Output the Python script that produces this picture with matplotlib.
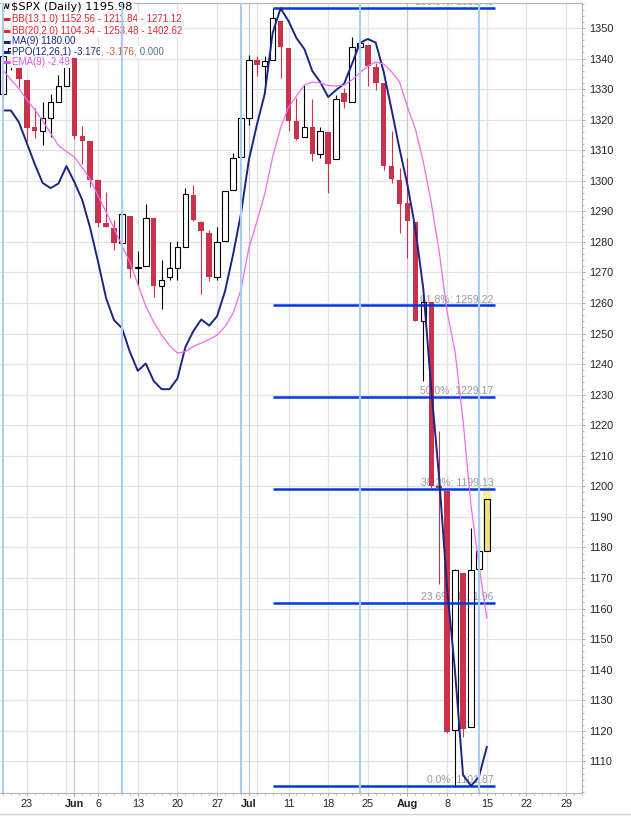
import numpy as np
import pandas as pd
import matplotlib
matplotlib.use('Agg')
import matplotlib.pyplot as plt
from matplotlib.lines import Line2D

# trading days shown on the chart (plus the empty days to the right)
dates = pd.bdate_range('2011-05-18', '2011-08-31', freq='C',
                       holidays=['2011-05-30', '2011-07-04'])

opens = [1328.54, 1342.40, 1342.00, 1333.07, 1317.70, 1316.36, 1320.64, 1325.69, 1331.10, 1345.20,
         1314.55, 1312.94, 1300.26, 1286.31, 1284.63, 1279.63, 1288.60, 1271.31, 1272.22, 1287.87,
         1265.53, 1268.58, 1271.50, 1278.40, 1295.48, 1286.60, 1283.04, 1268.44, 1280.21, 1296.85,
         1307.64, 1320.64, 1339.59, 1337.56, 1339.62, 1352.39, 1343.31, 1319.61, 1314.45, 1317.74,
         1308.87, 1315.94, 1307.07, 1328.66, 1325.65, 1343.80, 1344.32, 1337.39, 1331.91, 1304.84,
         1300.12, 1292.59, 1286.56, 1254.25, 1260.23, 1200.28, 1198.48, 1120.23, 1171.77, 1121.30,
         1172.87, 1178.86]
highs = [1341.82, 1346.82, 1342.00, 1333.07, 1323.72, 1325.86, 1328.51, 1334.62, 1345.20, 1345.20,
         1318.03, 1312.94, 1300.26, 1296.22, 1287.04, 1294.54, 1288.60, 1277.04, 1292.50, 1287.87,
         1274.11, 1279.82, 1280.42, 1297.62, 1298.61, 1286.79, 1283.93, 1284.91, 1296.80, 1309.21,
         1321.97, 1341.01, 1340.89, 1340.94, 1356.48, 1352.39, 1343.31, 1327.17, 1331.48, 1326.88,
         1317.70, 1315.94, 1328.14, 1330.43, 1347.00, 1346.10, 1344.32, 1338.51, 1331.91, 1316.32,
         1304.16, 1307.38, 1286.56, 1261.20, 1260.23, 1218.11, 1198.48, 1172.88, 1171.77, 1186.29,
         1189.04, 1199.90]
lows = [1326.59, 1336.36, 1330.67, 1312.88, 1313.87, 1311.80, 1314.41, 1325.69, 1331.10, 1313.71,
        1305.61, 1297.90, 1284.72, 1284.74, 1277.42, 1279.63, 1268.28, 1265.64, 1272.22, 1261.90,
        1258.07, 1267.40, 1267.56, 1278.40, 1286.79, 1262.87, 1267.24, 1267.53, 1280.21, 1296.85,
        1307.64, 1318.18, 1334.30, 1330.92, 1339.62, 1333.71, 1316.42, 1313.33, 1314.45, 1306.51,
        1307.52, 1295.92, 1307.07, 1323.65, 1325.65, 1336.95, 1331.09, 1329.59, 1303.49, 1299.16,
        1282.86, 1274.73, 1254.03, 1234.56, 1199.54, 1168.09, 1119.28, 1101.54, 1118.01, 1121.30,
        1170.74, 1178.86]
closes = [1340.68, 1343.60, 1333.27, 1317.37, 1316.28, 1320.47, 1325.69, 1331.10, 1345.20, 1314.55,
          1312.94, 1300.16, 1286.17, 1284.94, 1279.56, 1289.00, 1270.98, 1271.83, 1287.87, 1265.42,
          1267.64, 1271.50, 1278.36, 1295.52, 1287.14, 1283.50, 1268.45, 1280.10, 1296.67, 1307.41,
          1320.64, 1339.67, 1337.88, 1339.22, 1353.22, 1343.80, 1319.49, 1313.64, 1317.72, 1308.87,
          1316.14, 1305.44, 1326.73, 1325.84, 1343.80, 1345.02, 1337.43, 1331.94, 1304.89, 1300.67,
          1292.28, 1286.94, 1254.05, 1260.34, 1200.07, 1199.38, 1119.46, 1172.53, 1120.76, 1172.64,
          1178.81, 1195.98]

ppo_line = [1323.0, 1323.0, 1319.2, 1312.4, 1305.5, 1299.3, 1297.6, 1299.1, 1304.8, 1299.6,
            1293.7, 1284.5, 1273.4, 1261.6, 1254.4, 1251.8, 1244.0, 1237.8, 1240.2, 1234.5,
            1231.8, 1231.8, 1235.3, 1245.6, 1250.8, 1254.6, 1252.6, 1255.7, 1263.9, 1275.7,
            1289.1, 1306.8, 1318.2, 1328.4, 1348.4, 1356.4, 1352.3, 1346.7, 1343.1, 1335.9,
            1332.3, 1327.4, 1329.7, 1331.7, 1338.2, 1345.1, 1346.4, 1345.2, 1335.6, 1323.2,
            1310.4, 1298.6, 1284.2, 1264.5, 1231.9, 1202.5, 1166.5, 1139.3, 1105.6, 1102.0,
            1104.9, 1114.7]
ema_line = [1336.2, 1333.1, 1330.2, 1326.5, 1323.3, 1319.6, 1315.6, 1311.5, 1309.6, 1307.8,
            1304.3, 1300.4, 1295.0, 1289.8, 1284.5, 1278.7, 1273.4, 1266.2, 1259.0, 1253.8,
            1249.5, 1246.1, 1243.6, 1244.1, 1245.8, 1246.9, 1248.1, 1249.5, 1252.3, 1256.6,
            1264.3, 1278.0, 1286.5, 1295.7, 1307.8, 1317.3, 1324.1, 1327.7, 1331.3, 1332.3,
            1332.0, 1331.2, 1331.0, 1331.3, 1333.0, 1335.3, 1337.6, 1338.9, 1338.2, 1335.6,
            1332.3, 1324.1, 1316.9, 1306.1, 1292.7, 1276.7, 1257.0, 1244.0, 1221.7, 1193.9,
            1174.3, 1156.9]

tick_dates = ['2011-05-23', '2011-06-01', '2011-06-06', '2011-06-13', '2011-06-20', '2011-06-27',
              '2011-07-01', '2011-07-11', '2011-07-18', '2011-07-25', '2011-08-01', '2011-08-08',
              '2011-08-15', '2011-08-22', '2011-08-29']
tick_labels = ['23', 'Jun', '6', '13', '20', '27', 'Jul', '11', '18', '25', 'Aug', '8', '15', '22', '29']
month_labels = ['Jun', 'Jul', 'Aug']

cycle_dates = ['2011-05-18', '2011-06-09', '2011-06-30', '2011-07-22', '2011-08-12']

fib_start = '2011-07-07'
fib_pct = ['100.0%', '61.8%', '50.0%', '38.2%', '23.6%', '0.0%']
fib_vals = [1356.48, 1259.22, 1229.17, 1199.13, 1161.96, 1101.87]

RED = '#c8324a'
NAVY = '#1c2680'
VIOLET = '#ec6cf0'
FIB_BLUE = '#0038e8'
CYCLE_BLUE = '#a9cdf0'

W, H = 631, 816
fig = plt.figure(figsize=(W / 100, H / 100), dpi=100)
ax = fig.add_axes([0, (H - 793) / H, 582 / W, 790 / H])

slot = 8.05
ax.set_xlim(-3 / slot, 579 / slot)
ax.set_ylim(1099.66, 1358.17)

date_str = list(dates.strftime('%Y-%m-%d'))
pos = {d: i for i, d in enumerate(date_str)}

# vertical grid: first trading day of every week, darker at month starts
week_start = [i for i in range(len(dates)) if i == 0 or dates[i].isocalendar()[1] != dates[i - 1].isocalendar()[1]]
month_start = [i for i in range(1, len(dates)) if dates[i].month != dates[i - 1].month]
for i in week_start:
    if i > 0 and i not in month_start:
        ax.axvline(i, color='#e3e3e3', lw=0.9, zorder=0.5)
for i in month_start:
    ax.axvline(i, color='#c9c9c9', lw=0.9, zorder=0.6)
for v in range(1110, 1360, 10):
    ax.axhline(v, color='#e3e3e3', lw=0.9, zorder=0.5)

# candles
o = np.array(opens)
h = np.array(highs)
l = np.array(lows)
c = np.array(closes)
n = len(c)
x = np.arange(n)
up = c >= o
last = np.zeros(n, dtype=bool)
last[-1] = True
hollow = up & ~last
filled = ~up & ~last

ax.vlines(x[hollow | last], l[hollow | last], h[hollow | last], color='black', lw=0.8, zorder=2)
ax.vlines(x[filled], l[filled], h[filled], color=RED, lw=0.8, zorder=2)
ax.bar(x[hollow], (c - o)[hollow], bottom=o[hollow], width=0.7, facecolor='white',
       edgecolor='black', lw=0.8, zorder=2.5)
ax.bar(x[filled], (o - c)[filled], bottom=c[filled], width=0.7, color=RED, lw=0, zorder=2.5)
# latest bar highlighted in yellow
ax.bar(x[last], (h - l)[last], bottom=l[last], width=1.02, color='#f6ee94', lw=0, zorder=2.2)
ax.bar(x[last], (c - o)[last], bottom=o[last], width=0.7, facecolor='#f1e37a',
       edgecolor='black', lw=0.8, zorder=2.5)

# PPO + signal line
ax.plot(x[:len(ppo_line)], ppo_line, color=NAVY, lw=1.4, zorder=5)
ax.plot(x[:len(ema_line)], ema_line, color=VIOLET, lw=0.9, zorder=5)

# fibonacci retracement lines
f0 = pos[fib_start]
f1 = n
for pct, val in zip(fib_pct, fib_vals):
    ax.plot([f0, f1], [val, val], color=FIB_BLUE, lw=1.8, zorder=4, solid_capstyle='butt')
    ax.annotate(f'{pct}: {val:.2f}', xy=(f1, val), xytext=(-1, 2), textcoords='offset points',
                ha='right', va='baseline', color='#9a9a9a', fontsize=7.5,
                family='Liberation Sans', zorder=1, annotation_clip=False, clip_on=True)

# cycle lines
for d in cycle_dates:
    ax.axvline(pos[d], color=CYCLE_BLUE, lw=1.5, zorder=7)

# axes styling
ax.spines['left'].set_visible(False)
for s in ['top', 'right', 'bottom']:
    ax.spines[s].set_color('#b4b4b4')
    ax.spines[s].set_linewidth(0.8)

ax.yaxis.tick_right()
ax.set_yticks(range(1110, 1360, 10))
ax.set_yticks(range(1100, 1359, 2), minor=True)
ax.tick_params(axis='y', which='major', length=2.5, width=0.6, color='#999999', pad=3,
               labelsize=7.8, labelcolor='#222222')
ax.tick_params(axis='y', which='minor', length=1.5, width=0.6, color='#aaaaaa')
for t in ax.get_yticklabels():
    t.set_family('Liberation Sans')

ax.set_xticks([pos[d] for d in tick_dates])
ax.set_xticklabels(tick_labels)
ax.set_xticks(np.arange(len(dates)), minor=True)
ax.tick_params(axis='x', which='major', length=2, width=0.6, color='#999999', pad=2,
               labelsize=7.8, labelcolor='#222222')
ax.tick_params(axis='x', which='minor', length=1.5, width=0.6, color='#aaaaaa')
for t in ax.get_xticklabels():
    t.set_family('Liberation Sans')
    if t.get_text() in month_labels:
        t.set_fontweight('bold')


# legend block at top-left (white boxes behind each row)
def fxy(px, py):
    return px / W, 1 - py / H


def legend_row(py, parts, size, dash=None, tx=12, family='Liberation Sans'):
    if dash:
        (xa, ya), (xb, _) = fxy(3, py), fxy(10, py)
        ax.plot([xa, xb], [ya, ya], transform=fig.transFigure, color=dash, lw=2.2,
                solid_capstyle='butt', clip_on=False, zorder=6.5)
    box = dict(facecolor='white', edgecolor='none', pad=0.9)
    prev = ax.text(*fxy(tx, py), parts[0][0], color=parts[0][1], fontsize=size, va='center',
                   ha='left', transform=fig.transFigure, bbox=box, zorder=6, family=family)
    for s, col in parts[1:]:
        prev = ax.annotate(s, xy=(1, 0), xycoords=prev, va='bottom', ha='left', color=col,
                           fontsize=size, bbox=box, zorder=6, family=family)


legend_row(7, [('$SPX (Daily) 1195.98', 'black')], 8.2, tx=11, family='DejaVu Sans')
ax.text(*fxy(1.5, 7), 'W', fontsize=5, fontweight='bold', va='center', ha='left',
        transform=fig.transFigure, zorder=6.6)
legend_row(19, [('BB(13,1.0) 1152.56 - 1211.84 - 1271.12', '#e4262e')], 7, dash='#e4262e')
legend_row(30.5, [('BB(20,2.0) 1104.34 - 1253.48 - 1402.62', '#e4262e')], 7, dash='#e4262e')
legend_row(41.5, [('MA(9) 1180.00', NAVY)], 7, dash=NAVY)
legend_row(52, [('PPO(12,26,1) -3.176', NAVY), (', -3.176,', '#e8562a'), (' 0.000', '#56709a')],
           7, dash=NAVY)
legend_row(62, [('EMA(9) -2.49', '#e050ea')], 7, dash='#e050ea')

fig.add_artist(Line2D([0, 1], [1 - 814 / H, 1 - 814 / H], transform=fig.transFigure,
                      color='#d4d4d4', lw=1))

fig.savefig('out.png', dpi=100)
